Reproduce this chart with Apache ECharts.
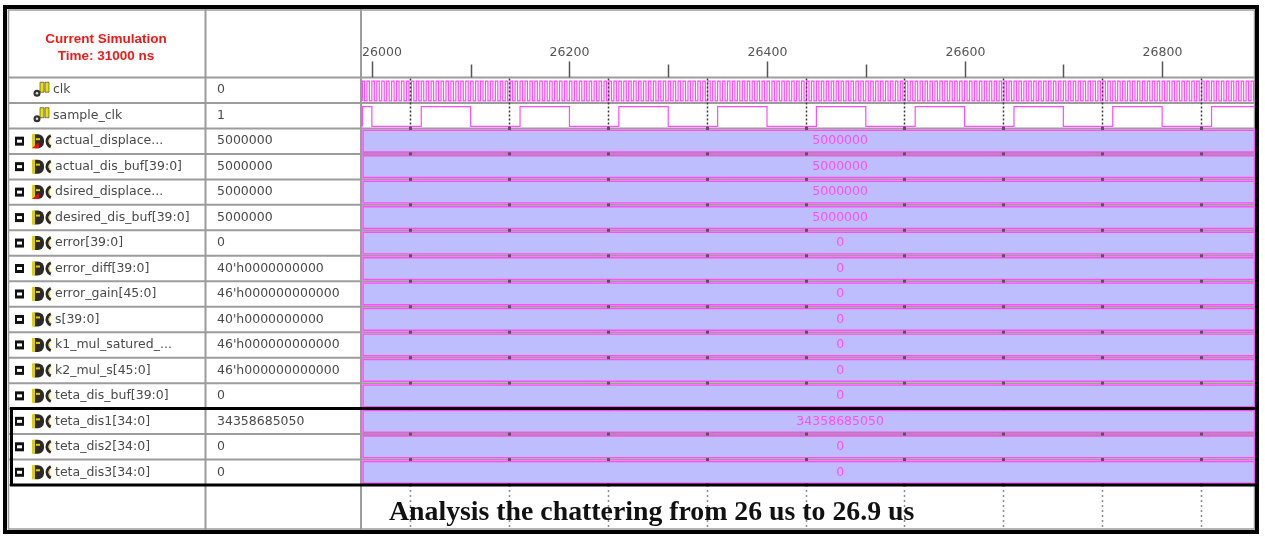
<!DOCTYPE html>
<html><head><meta charset="utf-8">
<script src="https://cdn.jsdelivr.net/npm/echarts@6/dist/echarts.min.js"></script>
<style>html,body{margin:0;padding:0;background:#fff}#c{width:1265px;height:536px}</style>
</head><body><div id="c"></div>
<script>
// ---------------- data ----------------
const signalNames = ['clk','sample_clk','actual_displace...','actual_dis_buf[39:0]','dsired_displace...','desired_dis_buf[39:0]','error[39:0]','error_diff[39:0]','error_gain[45:0]','s[39:0]','k1_mul_satured_...','k2_mul_s[45:0]','teta_dis_buf[39:0]','teta_dis1[34:0]','teta_dis2[34:0]','teta_dis3[34:0]'];
const signalKinds = ['clk','clk','port','bus','port','bus','bus','bus','bus','bus','bus','bus','bus','bus','bus','bus'];
const cursorValues = ['0','1','5000000','5000000','5000000','5000000','0',"40'h0000000000","46'h000000000000","40'h0000000000","46'h000000000000","46'h000000000000",'0','34358685050','0','0'];
const busRows = [2,3,4,5,6,7,8,9,10,11,12,13,14,15];
const busLabels = ['5000000','5000000','5000000','5000000','0','0','0','0','0','0','0','34358685050','0','0'];
const timeMin = 25990, timeMax = 26894;
const busLabelTime = 26474;
const majorTicks = [26000, 26200, 26400, 26600, 26800];
const minorTicks = [26100, 26300, 26500, 26700];
const gridTimes = [26039, 26139, 26239, 26339, 26439, 26539, 26639, 26739, 26839];
const sampleClkEdges = [26000,26050,26100,26150,26200,26250,26300,26350,26400,26450,26500,26550,26600,26650,26700,26750,26800,26850];
const sampleClkStartLevel = 1;
const clkPeriodNs = 5;
const clkStartLevel = 1;
const groupBoxRows = [13, 16];
const headerLines = ['Current Simulation', 'Time: 31000 ns'];
const footerText = 'Analysis the chattering from 26 us to 26.9 us';

// clock edges from the clock period
const clkEdges = [];
for (let t = timeMin + clkPeriodNs / 2; t < timeMax; t += clkPeriodNs / 2) clkEdges.push(t);

// ---------------- style ----------------
const MAG = '#ff4dff', BUSFILL = '#bebeff', GREY = '#9c9c9c', TXT = '#4a4a4a';
const FONT = '12.5px "DejaVu Sans"';
function txt(x, y, text, fill, font, align, valign) {
  return {type: 'text', x: x, y: y, style: {text: text, fill: fill, font: font,
    textAlign: align, textVerticalAlign: valign, align: align, verticalAlign: valign}};
}

function renderRow(params, api) {
  const i = params.dataIndex;
  const top = api.coord([timeMin, i])[1];
  const bot = api.coord([timeMin, i + 1])[1];
  const yc = (top + bot) / 2;
  const kind = signalKinds[i];
  const ch = [];
  ch.push({type: 'line', shape: {x1: 8, y1: bot, x2: 1256, y2: bot}, style: {stroke: GREY, lineWidth: 2}});
  if (i === 0) ch.push({type: 'line', shape: {x1: 8, y1: top, x2: 1256, y2: top}, style: {stroke: GREY, lineWidth: 2}});
  if (kind === 'clk') {
    ch.push({type: 'rect', shape: {x: 40, y: yc - 8, width: 4, height: 10}, style: {fill: '#e8e000', stroke: '#333', lineWidth: 0.6}});
    ch.push({type: 'rect', shape: {x: 45, y: yc - 8, width: 4, height: 10}, style: {fill: '#e8e000', stroke: '#333', lineWidth: 0.6}});
    ch.push({type: 'circle', shape: {cx: 37, cy: yc + 3, r: 3.5}, style: {fill: '#333'}});
    ch.push({type: 'circle', shape: {cx: 37, cy: yc + 3, r: 1.3}, style: {fill: '#ddd'}});
    ch.push(txt(53, yc, signalNames[i], TXT, FONT, 'left', 'middle'));
  } else {
    ch.push({type: 'rect', shape: {x: 15, y: yc - 4.5, width: 9, height: 9}, style: {fill: '#111'}});
    ch.push({type: 'rect', shape: {x: 17, y: yc - 1.5, width: 5, height: 3}, style: {fill: '#fff'}});
    ch.push({type: 'rect', shape: {x: 33, y: yc - 7, width: 11, height: 14, r: [2, 6, 6, 2]}, style: {fill: '#2a2a2a'}});
    ch.push({type: 'rect', shape: {x: 32, y: yc - 7, width: 3, height: 14}, style: {fill: '#e0cf00'}});
    ch.push({type: 'rect', shape: {x: 36, y: yc - 3, width: 4, height: 2}, style: {fill: '#e0cf00'}});
    ch.push({type: 'arc', shape: {cx: 53, cy: yc, r: 6, startAngle: Math.PI * 0.62, endAngle: Math.PI * 1.38}, style: {stroke: '#2a2a2a', lineWidth: 3, fill: null}});
    ch.push({type: 'arc', shape: {cx: 54, cy: yc, r: 5, startAngle: Math.PI * 0.7, endAngle: Math.PI * 1.3}, style: {stroke: '#e0cf00', lineWidth: 1, fill: null}});
    if (kind === 'port') {
      ch.push({type: 'polygon', shape: {points: [[32, yc + 7], [39, yc + 1], [39, yc + 7]]}, style: {fill: '#e01010'}});
    }
    ch.push(txt(55, yc, signalNames[i], TXT, FONT, 'left', 'middle'));
  }
  ch.push(txt(217, yc, cursorValues[i], TXT, FONT, 'left', 'middle'));
  return {type: 'group', children: ch};
}

function renderClk(params, api) {
  const row = api.value(1);
  const edges = row === 0 ? clkEdges : sampleClkEdges;
  let level = row === 0 ? clkStartLevel : sampleClkStartLevel;
  const yOf = lv => api.coord([timeMin, row + (lv ? 0.14 : 0.92)])[1];
  const xOf = t => api.coord([t, row])[0];
  const pts = [[xOf(timeMin) + 0.5, yOf(level)]];
  pts.push([xOf(timeMin) + 0.5, yOf(1 - level)]);
  pts.push([xOf(timeMin) + 0.5, yOf(level)]);
  edges.forEach(t => {
    if (t <= timeMin || t >= timeMax) return;
    const x = xOf(t);
    pts.push([x, yOf(level)]);
    level = 1 - level;
    pts.push([x, yOf(level)]);
  });
  pts.push([xOf(timeMax), yOf(level)]);
  return {type: 'polyline', shape: {points: pts}, style: {stroke: MAG, lineWidth: 1.2, fill: null}};
}

function renderBus(params, api) {
  const k = params.dataIndex;
  const row = busRows[k];
  const cs = params.coordSys;
  const x0 = Math.max(api.coord([timeMin, row])[0], cs.x);
  const x1 = Math.min(api.coord([timeMax, row])[0], cs.x + cs.width);
  const top = api.coord([timeMin, row])[1], bot = api.coord([timeMin, row + 1])[1];
  const lx = api.coord([busLabelTime, row])[0];
  return {type: 'group', children: [
    {type: 'rect', shape: {x: x0 + 1, y: top + 1.8, width: x1 - x0 - 1.5, height: bot - top - 3.6},
      style: {fill: BUSFILL, stroke: MAG, lineWidth: 1.6}},
    txt(lx, (top + bot) / 2, busLabels[k], MAG, FONT, 'center', 'middle')
  ]};
}

function renderGrid(params, api) {
  const t = api.value(0);
  const x = Math.round(api.coord([t, 0])[0]) + 0.5;
  const y0 = api.coord([t, 0])[1], y2 = api.coord([t, 2])[1], y16 = api.coord([t, 16])[1];
  const ch = [{type: 'line', shape: {x1: x, y1: y0 + 1, x2: x, y2: y2 - 1}, style: {stroke: '#3a3a3a', lineWidth: 1.5, lineDash: [2, 2]}}];
  for (let r = 2; r <= 16; r++) {
    const y = api.coord([t, r])[1];
    ch.push({type: 'rect', shape: {x: x - 1.5, y: y - 1.5, width: 3, height: 3}, style: {fill: '#555'}});
  }
  ch.push({type: 'line', shape: {x1: x, y1: y16 + 5, x2: x, y2: y16 + 43}, style: {stroke: '#8a8a8a', lineWidth: 1.5, lineDash: [2, 3]}});
  return {type: 'group', children: ch};
}

function renderTick(params, api) {
  const t = api.value(0), major = api.value(2);
  const cs = params.coordSys;
  const x = Math.round(api.coord([t, 0])[0]) + 0.5;
  const y0 = api.coord([t, 0])[1];
  const ch = [{type: 'line', shape: {x1: x, y1: y0 - (major ? 16 : 13), x2: x, y2: y0}, style: {stroke: '#555', lineWidth: 1.5}}];
  if (major) ch.push(txt(Math.max(x, cs.x + 20), y0 - 25, String(t), '#555', FONT, 'center', 'middle'));
  return {type: 'group', children: ch};
}

function renderBox(params, api) {
  const yT = api.coord([timeMin, api.value(1)])[1];
  const yB = api.coord([timeMin, api.value(2)])[1];
  const st = {stroke: '#000', lineWidth: 3};
  return {type: 'group', children: [
    {type: 'line', shape: {x1: 10, y1: yT, x2: 1257, y2: yT}, style: st},
    {type: 'line', shape: {x1: 10, y1: yB, x2: 1257, y2: yB}, style: st},
    {type: 'line', shape: {x1: 11.5, y1: yT, x2: 11.5, y2: yB}, style: st}
  ]};
}

const chart = echarts.init(document.getElementById('c'), null, {renderer: 'canvas'});
chart.setOption({
  animation: false,
  backgroundColor: '#fff',
  grid: {left: 362, top: 77.5, width: 893, height: 407.5, show: false},
  xAxis: {type: 'value', min: timeMin, max: timeMax, show: false},
  yAxis: {type: 'value', min: 0, max: 16, inverse: true, show: false},
  graphic: [
    {type: 'line', z: 1, shape: {x1: 205.5, y1: 9, x2: 205.5, y2: 530}, style: {stroke: GREY, lineWidth: 2}},
    {type: 'line', z: 1, shape: {x1: 361, y1: 9, x2: 361, y2: 530}, style: {stroke: GREY, lineWidth: 2}},
    {type: 'rect', z: 1, shape: {x: 8.5, y: 10, width: 1246, height: 519}, style: {fill: null, stroke: GREY, lineWidth: 1.5}},
    {type: 'text', z: 10, x: 106, y: 39, style: {text: headerLines[0], fill: '#ee1a1a', font: 'bold 13.5px "Liberation Sans"', textAlign: 'center', textVerticalAlign: 'middle', align: 'center', verticalAlign: 'middle'}},
    {type: 'text', z: 10, x: 106, y: 56, style: {text: headerLines[1], fill: '#ee1a1a', font: 'bold 13.5px "Liberation Sans"', textAlign: 'center', textVerticalAlign: 'middle', align: 'center', verticalAlign: 'middle'}},
    {type: 'text', z: 10, x: 389, y: 513, style: {text: footerText, fill: '#111', font: 'bold 27.8px "Liberation Serif"', textAlign: 'left', textVerticalAlign: 'middle', align: 'left', verticalAlign: 'middle'}},
    {type: 'rect', z: 20, shape: {x: 5, y: 7, width: 1252, height: 525}, style: {fill: null, stroke: '#000', lineWidth: 4}}
  ],
  series: [
    {type: 'custom', name: 'rows', z: 1, silent: true, renderItem: renderRow, data: signalNames.map((n, i) => [timeMin, i])},
    {type: 'custom', name: 'buses', z: 2, silent: true, renderItem: renderBus, data: busRows.map(r => [timeMin, r])},
    {type: 'custom', name: 'clocks', z: 3, silent: true, renderItem: renderClk, data: [[timeMin, 0], [timeMin, 1]]},
    {type: 'custom', name: 'grid', z: 4, silent: true, renderItem: renderGrid, data: gridTimes.map(t => [t, 0])},
    {type: 'custom', name: 'ticks', z: 4, silent: true, renderItem: renderTick,
      data: majorTicks.map(t => [t, 0, 1]).concat(minorTicks.map(t => [t, 0, 0]))},
    {type: 'custom', name: 'box', z: 5, silent: true, renderItem: renderBox, data: [[timeMin, groupBoxRows[0], groupBoxRows[1]]]}
  ]
});
</script></body></html>
